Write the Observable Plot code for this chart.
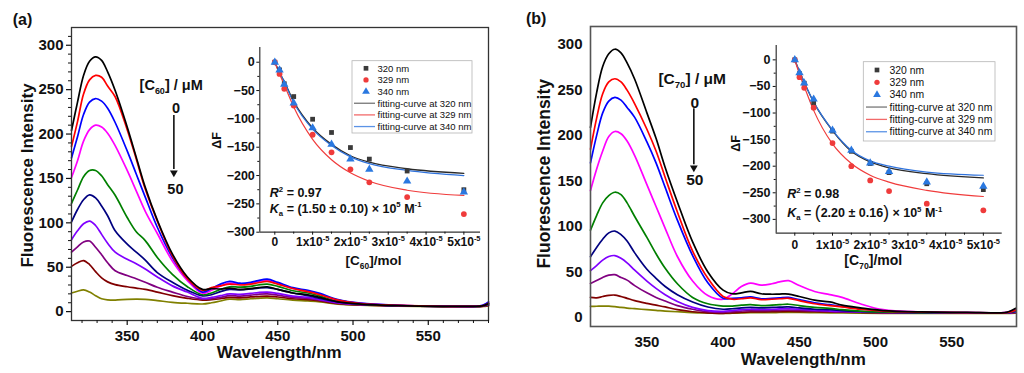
<!DOCTYPE html>
<html><head><meta charset="utf-8">
<script src="https://cdn.jsdelivr.net/npm/d3@7"></script>
<script src="https://cdn.jsdelivr.net/npm/@observablehq/plot@0.6"></script>
<style>
html,body{margin:0;padding:0;background:#fff;}
#wrap{position:relative;width:1024px;height:373px;overflow:hidden;}
#wrap > div{position:absolute;}
svg{overflow:visible}
</style></head><body><div id="wrap">
<div id="mainA" style="left:0;top:0;width:500px;height:373px"></div>
<div id="mainB" style="left:500px;top:0;width:524px;height:373px"></div>
<div id="insetA" style="left:200px;top:30px;width:290px;height:245px"></div>
<div id="insetB" style="left:715px;top:25px;width:300px;height:250px"></div>
</div>
<script>
// ---------------- DATA ----------------
const wavelengthsA = [313,317,321,325,329,333,337,342,350,356,362,370,380,390,400,406,412,418,425,432,437,443,450,460,470,478,490,505,530,560,580,586,590];
const wavelengthsB = [313,317,321,325,329,333,337,342,350,356,362,370,380,390,400,406,412,418,425,432,437,443,450,460,470,478,490,505,530,560,580,586,592];
const lineColors = ["#000000","#ff0000","#0000ff","#ff00ff","#008000","#000080","#8000ff","#800080","#800000","#808000"];

// Panel (a): C60 titration spectra (0 -> 50 uM)
const c60_1  = [204,236,266,282,287,283,270,249,208,174,140,103,65,39,25,26,25.5,26.5,25,26,27,28,25,21,19,16,11,8.5,6.8,6,6,6.5,9];
const c60_2  = [186,214,245,261,266,264,254,242,205,172,138,102,63,37,24,27,29,31,30,31,32.5,34,31,26,22.5,19,13,9,7,6,6,6.5,9.5];
const c60_3  = [173,197,222,236,240,237,229,213,181,155,129,95,61,37,22,26,31,34,32,33,35,36.5,33,27,24,20.5,13.5,9.5,7.2,6.2,6,7,11];
const c60_4  = [151,170,192,205,210,208,201,187,159,136,113,88,57,35,20.7,24,29,32,31,32,34,35,32,26,23,19.5,13,9.3,7,6.1,6,6.8,10];
const c60_5  = [122,137,152,159,159,153,143,131,106,90,80,61,42,28,19,21,25,28,27.5,28.5,30,31,28.5,23.5,21,17.5,12,8.8,6.9,6,5.9,6.5,9.5];
const c60_6  = [101,115,126,131.5,128,119,108,91,76,67,58,44,33,24,17.7,19,22.5,25,24.5,25.5,26.5,27,25,21,18,15,11,8.3,6.7,6,5.9,6.3,8.5];
const c60_7  = [81,91,99,102,97,87,77,67,59,54,48,39,29,22,15,16,18,20,19.5,20.5,21.5,22,20.5,17.5,16,13.5,10,8,6.6,5.9,5.8,6.2,8];
const c60_8  = [67,73,78.5,79.5,72.5,64,55,46,40.6,37,33,27.4,22,17,14,14.5,16,18,17.5,18.5,19.5,20,18.5,16,15,13,9.5,7.8,6.5,5.9,5.8,6.1,7.5];
const c60_9  = [51,55,57.5,53,45,38,33.5,30.4,28,26.5,25,22,18,15,13,13.5,14.5,16,15.5,16.5,17,17.5,16.5,14.5,13.5,12,9,7.5,6.4,5.8,5.7,6,7];
const c60_10 = [21,23,24.4,22,18,14.5,13.3,13,13.8,14,13.8,12.4,10.5,9.4,8.6,10,12,14,13.5,14.5,15,15.5,14.5,13,12,11,8.5,7.2,6.2,5.7,5.6,5.8,6.5];

// Panel (b): C70 titration spectra (0 -> 50 uM)
const c70_1  = [209,247,276,290,295,291,280,262,225,197,165,127,83,50,30,26,27,28.6,26,25.5,25.7,25.7,23,19,17,13.5,10.5,7.5,6,5.5,5,5.5,10];
const c70_2  = [185,219,246,259,262.5,259,250,235,207,183,154,116,73,43,23,20,20.5,21.5,19.5,20,20.5,21,18.5,15,13,11.5,9,7,5.8,5.3,5,5.3,8];
const c70_3  = [170,200,225,238,242,239,231,220,193,170,143,107,68,38,21,21,21.5,22.5,20.5,21,21.5,22,19.5,16,14,12,9.5,7.3,5.9,5.3,5,5.3,8];
const c70_4  = [139.5,163,183,199,204.5,202,194,178,146,122,98,67,40,24,20,26,34,37.8,35.5,37,39,40.4,35,28.5,25,22,15,8.5,6,5.3,5,5.5,9];
const c70_5  = [96,112,126,134,137.7,135,126,111,88,70,54,37,22,15,12.5,12.5,13.5,14,13,13.5,14,14.5,13,11,10,8.5,7,6,5.3,5,4.8,5,7];
const c70_6  = [66.8,77,86,93,95,91,84,71,53,43,34,25,17,11.5,9,9.5,10.5,11,10.5,11,11.3,11.5,10.5,9,8.5,7.5,6.5,5.7,5.2,5,4.8,5,6.5];
const c70_7  = [51.4,57,63,67,68,65,60,52,40,32,25,17.5,11,7.5,6.6,7.5,8.5,9,8.7,9,9.3,9.5,9,8,7,6.5,6,5.5,5.1,4.9,4.8,4.9,6];
const c70_8  = [37.4,40.5,44,46.5,47,44,41,35,27,22,18,13,9,6.2,5.5,6.2,7,7.5,7.3,7.6,7.8,8,7.6,7,6.5,6.2,5.8,5.3,5,4.8,4.7,4.8,5.5];
const c70_9  = [22,21.5,23,24.3,24.6,23,21,18.5,15.5,13.5,11.5,8.5,6.2,5,4.5,5,5.6,6,6,6.2,6.4,6.5,6.4,6.2,6,5.8,5.4,5,4.8,4.7,4.6,4.7,5.2];
const c70_10 = [12.1,12.3,12.5,12.4,11.8,11,10.3,9.6,8.5,7.8,7,6.2,5.3,4.8,4.4,4.6,4.9,5.2,5.2,5.3,5.4,5.5,5.4,5.2,5,4.9,4.7,4.5,4.4,4.4,4.4,4.5,4.8];

// Insets: quenching ΔF vs concentration
const conc = [0,0.125e-5,0.25e-5,0.5e-5,1e-5,1.5e-5,2e-5,2.5e-5,3.5e-5,5e-5];
const a_dF320 = [0,-13.5,-38,-60.6,-100.6,-124,-150.6,-171,-192,-225];
const a_dF329 = [0,-20.6,-47,-76.5,-128,-159,-189,-212,-238,-268];
const a_dF340 = [0,-14,-39,-72,-116,-145,-171,-189,-210,-229];
const a_fit320 = [0,-18,-34,-69,-116,-145,-165,-176.5,-188,-196];
const a_fit329 = [0,-21,-40,-79,-136,-172,-195,-210,-226,-235];
const a_fit340 = [0,-18,-35,-71,-118,-147,-167,-179,-191,-200];
const b_dF320 = [0,-26,-44,-81,-134,-172,-195,-212,-233,-244];
const b_dF329 = [0,-32.6,-52.6,-90,-156.5,-200,-226.7,-246.7,-270.5,-283];
const b_dF340 = [0,-24.4,-43.8,-74,-132.7,-170.3,-194,-210,-229.8,-238];
const b_fit320 = [0,-22,-42,-79.5,-133,-172,-192,-203,-214,-222];
const b_fit329 = [0,-27,-50,-95,-158,-195,-217,-230,-245.5,-257];
const b_fit340 = [0,-22,-42,-79,-132,-170,-190,-200,-211,-217];

// Ticks and labels
const mainXTicks = [350,400,450,500,550];
const mainYTicks = [0,50,100,150,200,250,300];
const insetYTicks = [0,-50,-100,-150,-200,-250,-300];
const insetXTicks = [0,1e-5,2e-5,3e-5,4e-5,5e-5];
const insetXLabels = ["0","1x10^{-5}","2x10^{-5}","3x10^{-5}","4x10^{-5}","5x10^{-5}"];
const legendLabels = ["320 nm","329 nm","340 nm","fitting-curve at 320 nm","fitting-curve at 329 nm","fitting-curve at 340 nm"];

// ---------------- HELPERS ----------------
const FONT = "Arial, 'Liberation Sans', sans-serif";
const baseStyle = {fontFamily: FONT, fontWeight: "bold", background: "transparent", overflow: "visible", color: "#111"};
const tidy = (wl, list) => list.flatMap((vals, k) => vals.map((v, i) => ({w: wl[i], v, k, color: lineColors[k]}))).reverse();
const pts = (xs, ys) => xs.map((x, i) => ({x, y: ys[i]}));
const xLabelMap = new Map(insetXTicks.map((t, i) => [t, insetXLabels[i]]));

function richify(svg) {
  const ns = "http://www.w3.org/2000/svg";
  svg.querySelectorAll("text").forEach(t => {
    const els = t.querySelectorAll("tspan").length ? Array.from(t.querySelectorAll("tspan")) : [t];
    els.forEach(el => {
      const s = el.textContent;
      if (!/[\^_~!]\{/.test(s)) return;
      const fs = parseFloat(getComputedStyle(el).fontSize) || 12;
      while (el.firstChild) el.removeChild(el.firstChild);
      const re = /([\^_~!])\{([^}]*)\}/g;
      let last = 0, m, shift = 0;
      const add = (txt, kind) => {
        if (!txt) return;
        const sp = document.createElementNS(ns, "tspan");
        sp.textContent = txt;
        const target = kind === "^" ? -0.42 * fs : kind === "_" ? 0.25 * fs : kind === "!" ? 0.1 * fs : 0;
        const dy = target - shift;
        if (Math.abs(dy) > 1e-6) sp.setAttribute("dy", dy.toFixed(2));
        shift = target;
        if (kind === "^" || kind === "_") sp.setAttribute("font-size", (fs * 0.62).toFixed(2));
        if (kind === "!") { sp.setAttribute("font-size", (fs * 1.4).toFixed(2)); sp.setAttribute("font-weight", "normal"); }
        if (kind === "~") sp.setAttribute("font-style", "italic");
        el.appendChild(sp);
      };
      while ((m = re.exec(s))) { add(s.slice(last, m.index), ""); add(m[2], m[1]); last = re.lastIndex; }
      add(s.slice(last), "");
    });
  });
}

function drawLegend(svg, spec) {
  const g = d3.select(svg).append("g").attr("font-family", FONT).attr("font-weight", "normal")
    .attr("font-size", spec.fontSize).attr("text-anchor", "start");
  g.append("rect").attr("x", spec.box[0]).attr("y", spec.box[1]).attr("width", spec.box[2] - spec.box[0]).attr("height", spec.box[3] - spec.box[1])
    .attr("fill", "white").attr("stroke", "#b5b5b5").attr("stroke-width", 0.8);
  const syms = [d3.symbolSquare, d3.symbolCircle, d3.symbolTriangle];
  const symFill = ["#3a3a3a", "#ef3b3b", "#2a78e0"];
  const lineCol = ["#777777", "#f26a6a", "#5b93e6"];
  legendLabels.forEach((lab, i) => {
    const y = spec.rowY0 + i * spec.rowStep;
    if (i < 3) {
      if (spec.symbols) g.append("path").attr("d", d3.symbol(syms[i], i === 2 ? 26 : 22)()).attr("transform", `translate(${spec.symX},${y})`).attr("fill", symFill[i]);
    } else {
      g.append("line").attr("x1", spec.lineX[0]).attr("x2", spec.lineX[1]).attr("y1", y).attr("y2", y).attr("stroke", lineCol[i - 3]).attr("stroke-width", 1.3);
    }
    g.append("text").attr("x", spec.textX).attr("y", y).attr("dy", "0.35em").attr("text-anchor", "start").attr("fill", "#111").text(lab);
  });
}

// ---------------- MAIN PANELS ----------------
function mainPanel(o) {
  return Plot.plot({
    width: o.width, height: 373, marginLeft: o.ml, marginRight: o.mr, marginTop: o.mt, marginBottom: o.mb,
    x: {domain: o.xdom}, y: {domain: [-10, 320]},
    style: baseStyle,
    marks: [
      Plot.line(o.data, {x: "w", y: "v", z: "k", stroke: "color", strokeWidth: 1.7, curve: "catmull-rom"}),
      Plot.frame({stroke: o.frameColor, strokeWidth: o.frameWidth}),
      Plot.axisY({ticks: mainYTicks, tickSize: o.tick, tickPadding: o.ypad, fontSize: 15, label: null, strokeWidth: 1.2}),
      Plot.axisX({ticks: mainXTicks, tickSize: o.tick, tickPadding: o.xpad, fontSize: 15, label: null, strokeWidth: 1.2}),
      ...(o.tick ? [
        Plot.axisY({ticks: d3.range(10, 320, 10).filter(d => d % 50), tickSize: 3, tickFormat: () => "", label: null}),
        Plot.axisX({ticks: d3.range(320, 591, 10).filter(d => d % 50), tickSize: 3, tickFormat: () => "", label: null})
      ] : []),
      Plot.text([o.tag], {x: o.tagPos[0], y: o.tagPos[1], text: d => d, fontSize: 16}),
      Plot.text(["Fluorescence Intensity"], {x: o.ylabPos[0], y: o.ylabPos[1], text: d => d, rotate: -90, fontSize: o.ylabSize}),
      Plot.text(["Wavelength/nm"], {x: o.xlabPos[0], y: o.xlabPos[1], text: d => d, fontSize: 17}),
      Plot.text([o.concLabel], {x: o.concPos[0], y: o.concPos[1], text: d => d, fontSize: o.annSize}),
      Plot.text(["0"], {x: o.zeroPos[0], y: o.zeroPos[1], text: d => d, fontSize: o.annSize}),
      Plot.text(["50"], {x: o.fiftyPos[0], y: o.fiftyPos[1], text: d => d, fontSize: o.annSize}),
      Plot.ruleX([o.arrow[0]], {y1: o.arrow[1], y2: o.arrow[2], stroke: "#111", strokeWidth: 1.6}),
      Plot.dot([o.arrow[0]], {x: d => d, y: o.arrow[3], symbol: "triangle", rotate: 180, r: 2.9, fill: "#111", stroke: "none"})
    ]
  });
}

const svgA = mainPanel({
  width: 500, ml: 71, mr: 12, mt: 27, mb: 53, xdom: [313, 590],
  data: tidy(wavelengthsA, [c60_1,c60_2,c60_3,c60_4,c60_5,c60_6,c60_7,c60_8,c60_9,c60_10]),
  frameColor: "#333", frameWidth: 1.3, tick: 5, ypad: 3, xpad: 5,
  tag: "(a)", tagPos: [280.5, 329], ylabPos: [283.6, 153.3], ylabSize: 17, xlabPos: [451, -46],
  concLabel: "[C_{60}] / μM", concPos: [379.2, 254.8], annSize: 14.5,
  zeroPos: [382.4, 228.5], fiftyPos: [382, 137.9], arrow: [381, 221, 160, 156.4]
});
document.getElementById("mainA").appendChild(svgA);

const svgB = mainPanel({
  width: 524, ml: 90, mr: 8, mt: 26, mb: 47, xdom: [313, 592.5],
  data: tidy(wavelengthsB, [c70_1,c70_2,c70_3,c70_4,c70_5,c70_6,c70_7,c70_8,c70_9,c70_10]),
  frameColor: "#555", frameWidth: 1.6, tick: 0, ypad: 8, xpad: 10,
  tag: "(b)", tagPos: [277.4, 328], ylabPos: [282.8, 158], ylabSize: 17.5, xlabPos: [452.6, -46.5],
  concLabel: "[C_{70}] / μM", concPos: [379.7, 262.6], annSize: 15.5,
  zeroPos: [381.4, 235.7], fiftyPos: [381.4, 151.4], arrow: [380.8, 229.5, 168, 164.5]
});
document.getElementById("mainB").appendChild(svgB);

// ---------------- INSETS ----------------
function insetPanel(o) {
  return Plot.plot({
    width: o.width, height: o.height, marginLeft: o.ml, marginRight: o.mr, marginTop: o.mt, marginBottom: o.mb,
    x: {domain: o.xdom}, y: {domain: o.ydom},
    style: baseStyle,
    marks: [
      Plot.ruleX([o.xdom[0]], {stroke: "#333", strokeWidth: 1.2}),
      Plot.ruleY([o.ydom[0]], {stroke: "#333", strokeWidth: 1.2}),
      Plot.axisY({ticks: insetYTicks, tickSize: 3, tickPadding: o.ypad, fontSize: 12.5, label: null}),
      Plot.axisY({ticks: [-25,-75,-125,-175,-225,-275], tickSize: 2, tickFormat: () => "", label: null}),
      Plot.axisX({ticks: insetXTicks, tickSize: 3, tickPadding: o.xpad, fontSize: 12, label: null, tickFormat: d => xLabelMap.get(d)}),
      Plot.axisX({ticks: [0.5e-5,1.5e-5,2.5e-5,3.5e-5,4.5e-5], tickSize: 2, tickFormat: () => "", label: null}),
      Plot.line(pts(conc, o.fit[0]), {x: "x", y: "y", stroke: "#2a2a2a", strokeWidth: 1.3, curve: "monotone-x"}),
      Plot.line(pts(conc, o.fit[2]), {x: "x", y: "y", stroke: "#2f72dc", strokeWidth: 1.2, curve: "monotone-x"}),
      Plot.line(pts(conc, o.fit[1]), {x: "x", y: "y", stroke: "#f03c3c", strokeWidth: 1.2, curve: "monotone-x"}),
      Plot.dot(pts(conc, o.dF[0]), {x: "x", y: "y", symbol: "square", r: 2.7, fill: "#3a3a3a", stroke: "none"}),
      Plot.dot(pts(conc, o.dF[1]), {x: "x", y: "y", symbol: "circle", r: 2.9, fill: "#ef3b3b", stroke: "none"}),
      Plot.dot(pts(conc, o.dF[2]), {x: "x", y: "y", symbol: "triangle", r: 3.1, fill: "#2a78e0", stroke: "none"}),
      Plot.text(["ΔF"], {x: o.dFPos[0], y: o.dFPos[1], text: d => d, rotate: -90, fontSize: 12.5}),
      Plot.text([o.xlab], {x: o.xlabPos[0], y: o.xlabPos[1], text: d => d, fontSize: o.xlabSize}),
      Plot.text([o.r2], {x: o.r2Pos[0], y: o.r2Pos[1], text: d => d, textAnchor: "start", fontSize: 12.5}),
      Plot.text([o.ka], {x: o.kaPos[0], y: o.kaPos[1], text: d => d, textAnchor: "start", fontSize: 12.5})
    ]
  });
}

const insA = insetPanel({
  width: 290, height: 245, ml: 59.3, mr: 10, mt: 17, mb: 43.3,
  xdom: [-0.397e-5, 5.44e-5], ydom: [-300, 26], ypad: 2, xpad: 2.6,
  dF: [a_dF320, a_dF329, a_dF340], fit: [a_fit320, a_fit329, a_fit340],
  dFPos: [-1.516e-5, -138], xlab: "[C_{60}]/mol", xlabPos: [2.61e-5, -351], xlabSize: 13.5,
  r2: "~{R}^{2} = 0.97", r2Pos: [-0.132e-5, -230.8],
  ka: "~{K}_{a} = (1.50 ± 0.10) × 10^{5} M^{-1}", kaPos: [-0.132e-5, -258.2]
});
document.getElementById("insetA").appendChild(insA);
drawLegend(insA, {box: [152, 30.7, 272, 103], rowY0: 38.3, rowStep: 11.65, symX: 166, lineX: [154, 175], textX: 177.5, fontSize: 9.5, symbols: true});

const insB = insetPanel({
  width: 300, height: 250, ml: 60.7, mr: 13.3, mt: 20, mb: 42.3,
  xdom: [-0.493e-5, 5.5e-5], ydom: [-326, 27], ypad: 2.7, xpad: 4.3,
  dF: [b_dF320, b_dF329, b_dF340], fit: [b_fit320, b_fit329, b_fit340],
  dFPos: [-1.571e-5, -157], xlab: "[C_{70}]/mol", xlabPos: [2.08e-5, -378], xlabSize: 14,
  r2: "~{R}^{2} = 0.98", r2Pos: [-0.2e-5, -252.5],
  ka: "~{K}_{a} = !{(}2.20 ± 0.16!{)} × 10^{5} M^{-1}", kaPos: [-0.2e-5, -288.2]
});
document.getElementById("insetB").appendChild(insB);
drawLegend(insB, {box: [148.3, 36.7, 280, 116], rowY0: 45, rowStep: 12.35, symX: 162, lineX: [151, 172], textX: 174.5, fontSize: 10.4, symbols: true});

[svgA, svgB, insA, insB].forEach(richify);
</script>
</body></html>
